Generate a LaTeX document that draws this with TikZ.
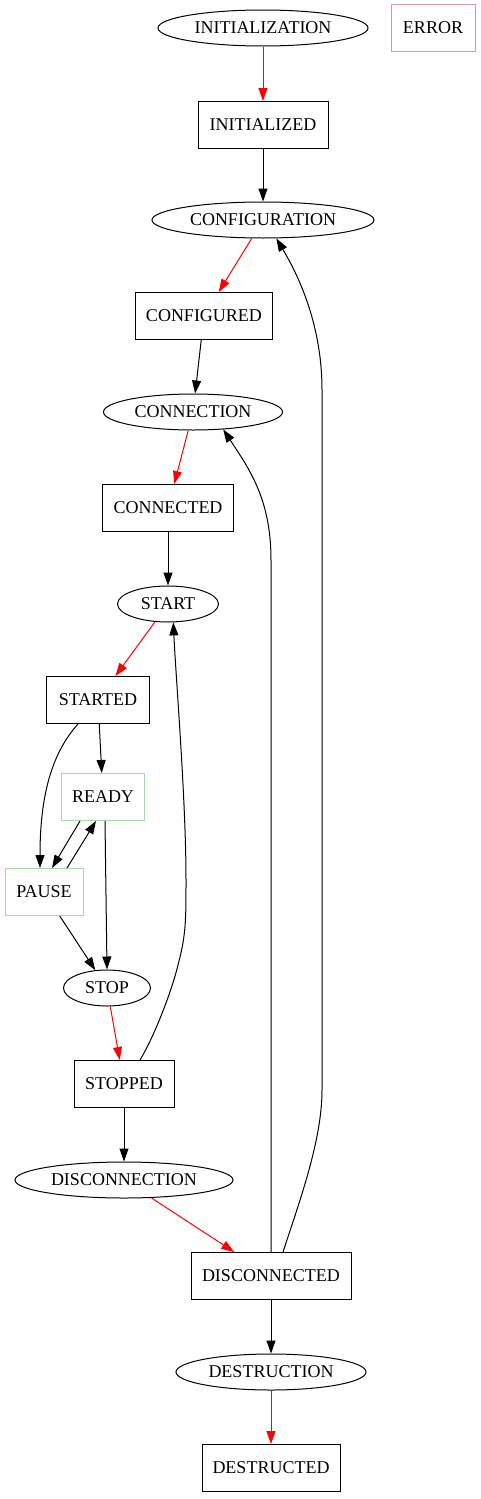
\documentclass[tikz,border=0pt]{standalone}
\usepackage{fontspec}
\setmainfont{Liberation Serif}
\usetikzlibrary{shapes.geometric, arrows.meta}

\definecolor{errpink}{RGB}{220,150,160}
\definecolor{waitgreen}{RGB}{165,220,165}

\begin{document}
\begin{tikzpicture}[x = 1pt, y = -1pt, font = \fontsize{18}{21}\selectfont,
  stage/.style = {draw, ellipse, line width = 1pt, minimum height = 36pt, inner sep = 0pt},
  state/.style = {draw, rectangle, line width = 1pt, minimum height = 47pt, inner sep = 0pt},
  edge/.style = {-{Triangle[length = 13pt, width = 9pt]}, line width = 1pt},
  redge/.style = {edge, red}]

\useasboundingbox (0, 0) rectangle (481, 1499);

\node[stage, minimum width = 210pt] (initialization) at (263, 28) {INITIALIZATION};
\node[state, draw = errpink, minimum width = 84pt] (error) at (433, 28) {ERROR};
\node[state, minimum width = 130pt] (initialized) at (263, 125) {INITIALIZED};
\node[stage, minimum width = 222pt] (configuration) at (263, 220) {CONFIGURATION};
\node[state, minimum width = 137pt] (configured) at (204, 316) {CONFIGURED};
\node[stage, minimum width = 179pt] (connection) at (193, 412) {CONNECTION};
\node[state, minimum width = 131pt] (connected) at (168, 508) {CONNECTED};
\node[stage, minimum width = 101pt] (start) at (168, 604) {START};
\node[state, minimum width = 103pt] (started) at (98, 700) {STARTED};
\node[state, draw = waitgreen, minimum width = 83pt] (ready) at (103, 797) {READY};
\node[state, draw = waitgreen, minimum width = 78pt] (pause) at (44, 892) {PAUSE};
\node[stage, minimum width = 87pt] (stop) at (107, 988) {STOP};
\node[state, minimum width = 100pt] (stopped) at (124, 1084) {STOPPED};
\node[stage, minimum width = 218pt] (disconnection) at (124, 1180) {DISCONNECTION};
\node[state, minimum width = 160pt] (disconnected) at (271, 1276) {DISCONNECTED};
\node[stage, minimum width = 190pt] (destruction) at (271, 1372) {DESTRUCTION};
\node[state, minimum width = 138pt] (destructed) at (271, 1468) {DESTRUCTED};

% main chain
\draw[redge] (initialization) -- (initialized);
\draw[edge] (initialized) -- (configuration);
\draw[redge] (configuration) -- (configured);
\draw[edge] (configured) -- (connection);
\draw[redge] (connection) -- (connected);
\draw[edge] (connected) -- (start);
\draw[redge] (start) -- (started);
\draw[edge] (started) -- (ready);
\draw[edge] ([xshift = -20pt]started.south) .. controls (50, 755) and (40, 800) .. ([xshift = -4pt]pause.north);
\draw[edge] ([xshift = -23pt]ready.south) -- ([xshift = 8pt]pause.north);
\draw[edge] ([xshift = 23pt]pause.north) -- ([xshift = -7pt]ready.south);
\draw[edge] ([xshift = 2pt]ready.south) -- (stop.north);
\draw[edge] (pause) -- (stop);
\draw[redge] (stop) -- (stopped);
\draw[edge] (stopped) -- (disconnection);
\draw[redge] (disconnection) -- (disconnected);
\draw[edge] (disconnected) -- (destruction);
\draw[redge] (destruction) -- (destructed);

% back edges
\draw[edge] ([xshift = 16pt]stopped.north) .. controls (155, 1035) and (172, 990) .. (178, 965)
  .. controls (186, 935) and (186, 920) .. (186, 880)
  .. controls (186, 800) and (176, 680) .. (start.-74);
\draw[edge] (disconnected.north) -- (271, 560) .. controls (271, 500) and (250, 470) .. (connection.-30);
\draw[edge] ([xshift = 12pt]disconnected.north) .. controls (300, 1200) and (322, 1140) .. (322, 1090)
  -- (322, 390) .. controls (322, 320) and (295, 270) .. (configuration.-54);

\end{tikzpicture}
\end{document}
